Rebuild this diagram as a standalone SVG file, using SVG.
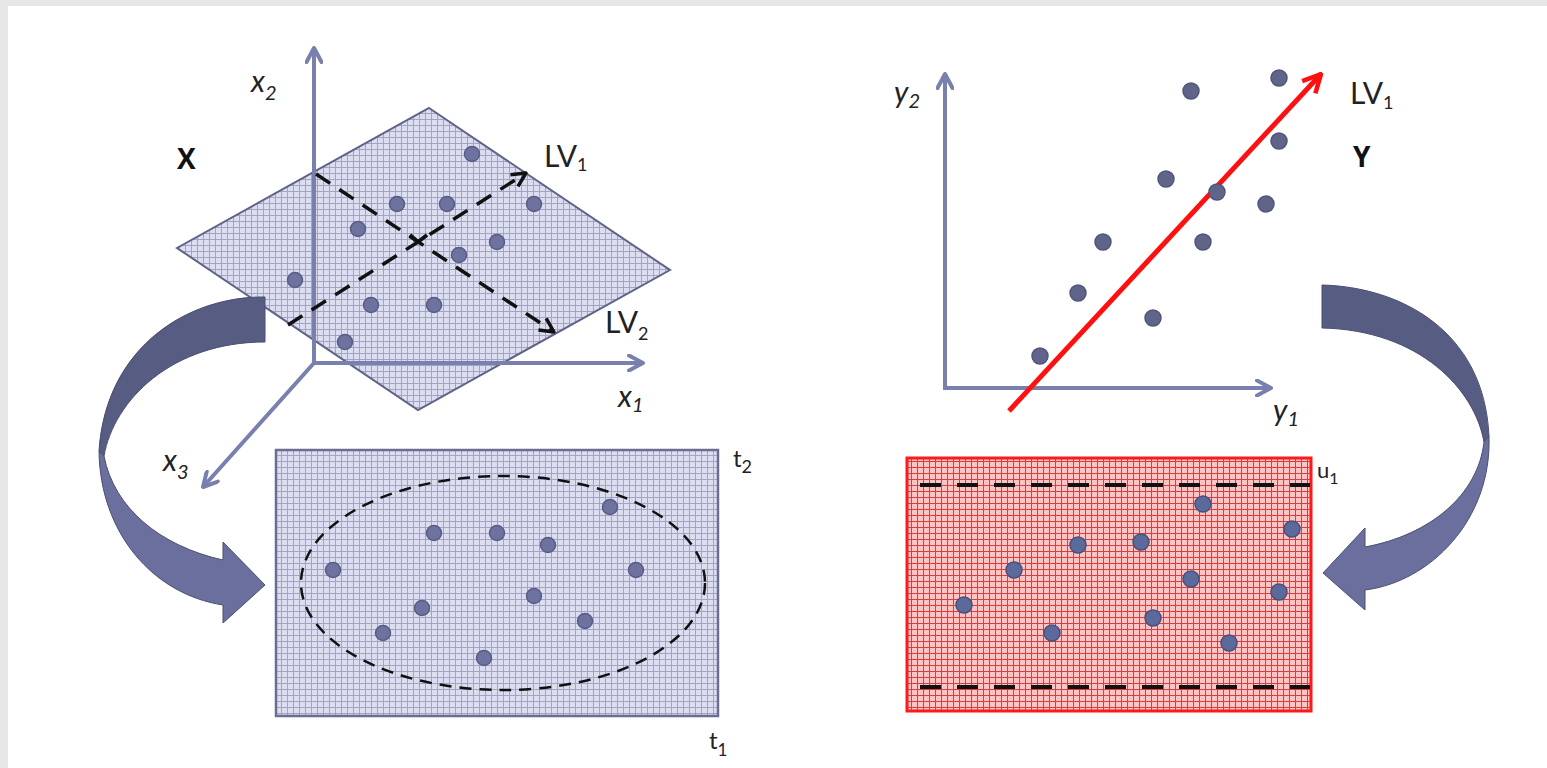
<svg xmlns="http://www.w3.org/2000/svg" width="1547" height="768" viewBox="0 0 1547 768">
<style>
.axis{stroke:#7a80ad;stroke-width:4;fill:none}
.dash{stroke:#111;stroke-width:3.5;stroke-dasharray:17 11;fill:none}
.dotB{fill:#6e729e;stroke:#585c86;stroke-width:1.5}
.dotS{fill:#5f6488;stroke:#50557a;stroke-width:1.5}
.dotR{fill:#5b6a9a;stroke:#46517c;stroke-width:1.5}
.lbl{font-family:Lato,"Open Sans",sans-serif;fill:#222}
.it{font-style:italic}
.bold{font-family:"Open Sans",Lato,sans-serif;font-weight:bold;fill:#111}
.arrDark{fill:#575c82;stroke:#4a4e70;stroke-width:1}
.arrLight{fill:#6a6f9e;stroke:#4a4e70;stroke-width:1}
</style>
<defs>
<pattern id="gridB" width="6" height="6" patternUnits="userSpaceOnUse">
<rect width="6" height="6" fill="#dcdef0"/>
<path d="M5.5 0V6M0 5.5H6" stroke="#a0a4c6" stroke-width="1"/>
</pattern>
<pattern id="gridR" width="6" height="6" patternUnits="userSpaceOnUse">
<rect width="6" height="6" fill="#fbc4c4"/>
<path d="M5.5 0V6M0 5.5H6" stroke="#e03a3a" stroke-width="1"/>
</pattern>
<marker id="mAxis" viewBox="0 0 18 18" refX="16" refY="9" markerWidth="18" markerHeight="18" markerUnits="userSpaceOnUse" orient="auto">
<path d="M2,1.5 L16,9 L2,16.5" fill="none" stroke="#7a80ad" stroke-width="4" stroke-linecap="round" stroke-linejoin="round"/>
</marker>
<marker id="mBlack" viewBox="0 0 18 18" refX="16" refY="9" markerWidth="18" markerHeight="18" markerUnits="userSpaceOnUse" orient="auto">
<path d="M2,2 L16,9 L2,16" fill="none" stroke="#111" stroke-width="3.5" stroke-linejoin="round"/>
</marker>
<marker id="mRed" viewBox="0 0 22 22" refX="20" refY="11" markerWidth="22" markerHeight="22" markerUnits="userSpaceOnUse" orient="auto">
<path d="M2,2 L20,11 L2,20" fill="none" stroke="#ff1010" stroke-width="4.5" stroke-linejoin="round"/>
</marker>
</defs>

<g id="background">
<rect width="1547" height="768" fill="#e6e6e6"/>
<rect x="8" y="6" width="1539" height="762" fill="#ffffff"/>
</g>

<g id="x-space">
<polygon points="429,108 670,270 418,410 177,248" fill="url(#gridB)" stroke="#5f6388" stroke-width="2"/>
<line class="axis" x1="314" y1="363" x2="314" y2="48" marker-end="url(#mAxis)"/>
<line class="axis" x1="312" y1="363" x2="643" y2="363" marker-end="url(#mAxis)"/>
<line class="axis" x1="314" y1="363" x2="203" y2="487" marker-end="url(#mAxis)"/>
<text class="bold" x="177" y="169" font-size="28">X</text>
<text class="lbl it" x="251" y="92" font-size="30">x<tspan font-size="20" dy="8">2</tspan></text>
<text class="lbl it" x="618" y="407" font-size="30">x<tspan font-size="20" dy="5">1</tspan></text>
<text class="lbl it" x="163" y="471" font-size="30">x<tspan font-size="20" dy="8">3</tspan></text>
</g>

<g id="x-dots">
<circle class="dotB" cx="472" cy="154" r="7.5"/>
<circle class="dotB" cx="397" cy="204" r="7.5"/>
<circle class="dotB" cx="447" cy="204" r="7.5"/>
<circle class="dotB" cx="534" cy="204" r="7.5"/>
<circle class="dotB" cx="358" cy="229" r="7.5"/>
<circle class="dotB" cx="497" cy="242" r="7.5"/>
<circle class="dotB" cx="459" cy="255" r="7.5"/>
<circle class="dotB" cx="295" cy="280" r="7.5"/>
<circle class="dotB" cx="371" cy="305" r="7.5"/>
<circle class="dotB" cx="434" cy="305" r="7.5"/>
<circle class="dotB" cx="345" cy="342" r="7.5"/>
</g>

<g id="x-latent">
<line class="dash" x1="288" y1="325" x2="526" y2="173" marker-end="url(#mBlack)"/>
<line class="dash" x1="316" y1="174" x2="554" y2="332" marker-end="url(#mBlack)"/>
<path d="M410,235 L418,242 L427,235" fill="none" stroke="#111" stroke-width="4"/>
<text class="lbl" x="544" y="167" font-size="30">LV<tspan font-size="18" dy="4">1</tspan></text>
<text class="lbl" x="605" y="333" font-size="30">LV<tspan font-size="18" dy="7">2</tspan></text>
</g>

<g id="arrow-left">
<path class="arrDark" d="M265,297 C190,296 106,345 99,451 L104,456 C114,400 172,342 265,342 Z"/>
<path class="arrLight" d="M99,451 C100,532 152,594 223,605 L223,623 L265,585 L223,542 L223,560 C160,546 114,508 104,456 Z"/>
</g>

<g id="t-scores">
<rect x="276" y="450" width="442" height="266" fill="url(#gridB)" stroke="#6a6e92" stroke-width="2.5"/>
<ellipse cx="503" cy="583" rx="202" ry="107" fill="none" stroke="#111" stroke-width="2.5" stroke-dasharray="12 8"/>
<circle class="dotB" cx="333" cy="570" r="7.5"/>
<circle class="dotB" cx="434" cy="533" r="7.5"/>
<circle class="dotB" cx="497" cy="533" r="7.5"/>
<circle class="dotB" cx="548" cy="545" r="7.5"/>
<circle class="dotB" cx="610" cy="507" r="7.5"/>
<circle class="dotB" cx="636" cy="570" r="7.5"/>
<circle class="dotB" cx="534" cy="596" r="7.5"/>
<circle class="dotB" cx="422" cy="608" r="7.5"/>
<circle class="dotB" cx="383" cy="633" r="7.5"/>
<circle class="dotB" cx="585" cy="621" r="7.5"/>
<circle class="dotB" cx="484" cy="658" r="7.5"/>
<text class="lbl" x="733" y="467" font-size="24">t<tspan font-size="18" dy="6">2</tspan></text>
<text class="lbl" x="709" y="749" font-size="24">t<tspan font-size="17" dy="7">1</tspan></text>
</g>

<g id="y-space">
<line class="axis" x1="945" y1="388" x2="945" y2="74" marker-end="url(#mAxis)"/>
<line class="axis" x1="943" y1="388" x2="1271" y2="388" marker-end="url(#mAxis)"/>
<text class="lbl it" x="894" y="103" font-size="30">y<tspan font-size="20" dy="5">2</tspan></text>
<text class="lbl it" x="1273" y="421" font-size="30">y<tspan font-size="20" dy="5">1</tspan></text>
<text class="bold" x="1353" y="167" font-size="28">Y</text>
<circle class="dotS" cx="1191" cy="91" r="8"/>
<circle class="dotS" cx="1279" cy="78" r="8"/>
<circle class="dotS" cx="1279" cy="141" r="8"/>
<circle class="dotS" cx="1166" cy="179" r="8"/>
<circle class="dotS" cx="1266" cy="204" r="8"/>
<circle class="dotS" cx="1103" cy="242" r="8"/>
<circle class="dotS" cx="1203" cy="242" r="8"/>
<circle class="dotS" cx="1078" cy="293" r="8"/>
<circle class="dotS" cx="1153" cy="318" r="8"/>
<circle class="dotS" cx="1040" cy="356" r="8"/>
<line x1="1009" y1="411" x2="1321" y2="74" stroke="#ff1010" stroke-width="5" marker-end="url(#mRed)"/>
<circle class="dotS" cx="1217" cy="192" r="8"/>
<text class="lbl" x="1350" y="104" font-size="30">LV<tspan font-size="18" dy="5">1</tspan></text>
</g>

<g id="arrow-right">
<path class="arrDark" d="M1322,285 C1400,287 1484,330 1489,436 L1484,442 C1475,390 1420,330 1322,328 Z"/>
<path class="arrLight" d="M1489,436 C1492,520 1430,582 1365,590 L1365,610 L1323,573 L1365,528 L1365,547 C1430,535 1478,495 1484,442 Z"/>
</g>

<g id="u-scores">
<rect x="907" y="458" width="404" height="253" fill="url(#gridR)" stroke="#ff1a1a" stroke-width="3"/>
<line x1="920" y1="485" x2="1310" y2="485" stroke="#111" stroke-width="4" stroke-dasharray="21 16"/>
<line x1="920" y1="687" x2="1310" y2="687" stroke="#111" stroke-width="4" stroke-dasharray="21 16"/>
<circle class="dotR" cx="964" cy="605" r="8"/>
<circle class="dotR" cx="1014" cy="570" r="8"/>
<circle class="dotR" cx="1052" cy="633" r="8"/>
<circle class="dotR" cx="1078" cy="545" r="8"/>
<circle class="dotR" cx="1141" cy="542" r="8"/>
<circle class="dotR" cx="1153" cy="618" r="8"/>
<circle class="dotR" cx="1203" cy="504" r="8"/>
<circle class="dotR" cx="1191" cy="579" r="8"/>
<circle class="dotR" cx="1229" cy="643" r="8"/>
<circle class="dotR" cx="1279" cy="592" r="8"/>
<circle class="dotR" cx="1292" cy="529" r="8"/>
<text class="lbl" x="1317" y="478" font-size="22">u<tspan font-size="16" dy="6">1</tspan></text>
</g>
</svg>
